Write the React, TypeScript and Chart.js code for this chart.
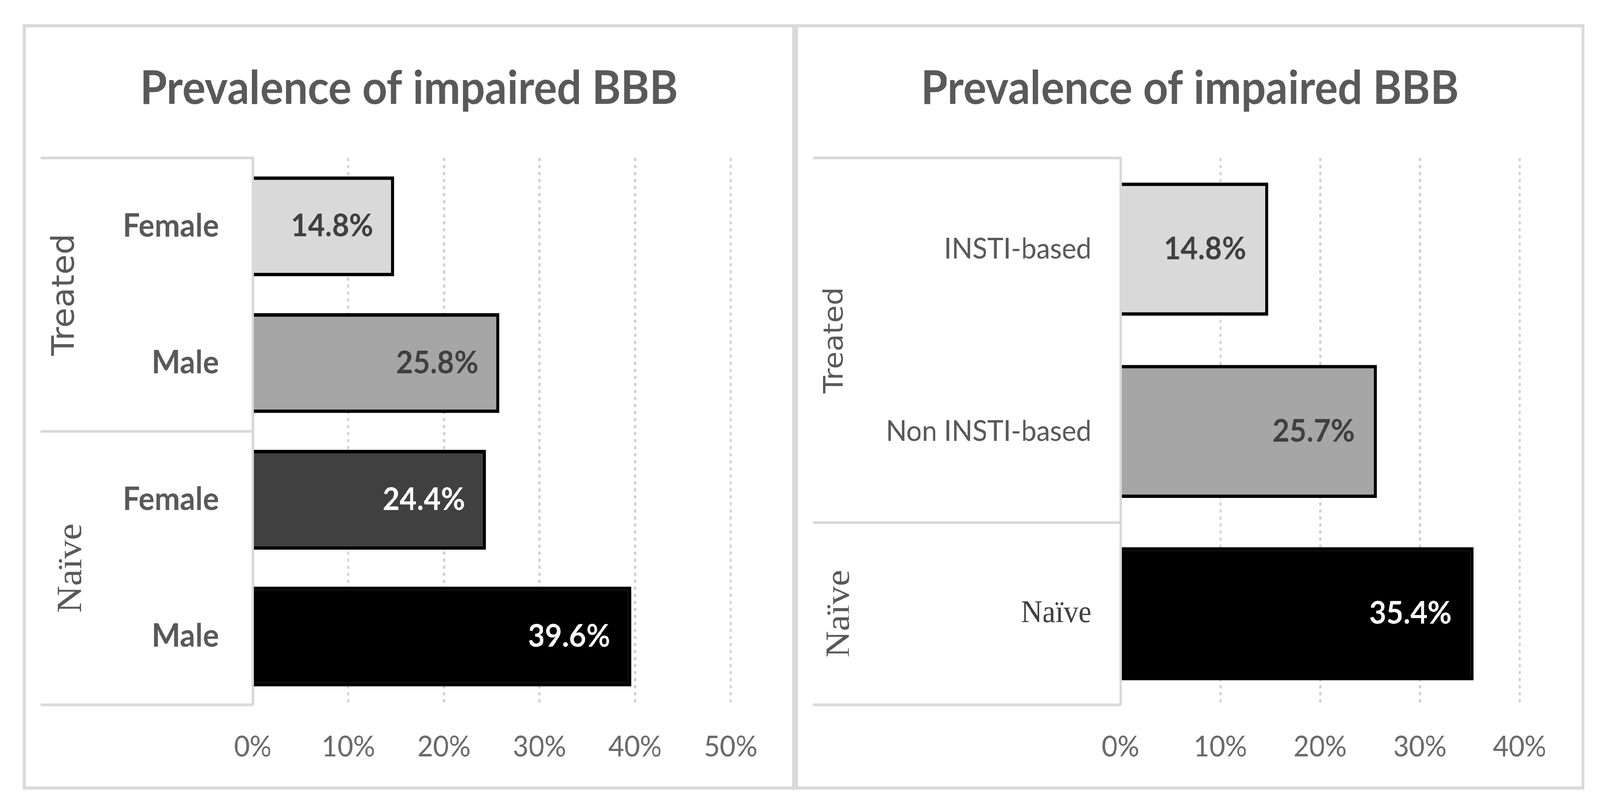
import React, { useEffect, useRef } from 'react';
import { Chart, registerables } from 'chart.js';

Chart.register(...registerables);

// ---------------- data ----------------
const TITLE = 'Prevalence of impaired BBB';

// left chart: by sex
const sexGroups = ['Treated', 'Naïve'];
const sexCategories = ['Female', 'Male', 'Female', 'Male'];
const sexGroupIndex = [0, 0, 1, 1];
const sexValues = [14.8, 25.8, 24.4, 39.6];
const sexTicks = [0, 10, 20, 30, 40, 50];

// right chart: by regimen
const regimenGroups = ['Treated', 'Naïve'];
const regimenCategories = ['INSTI-based', 'Non INSTI-based', 'Naïve'];
const regimenGroupIndex = [0, 0, 1];
const regimenValues = [14.8, 25.7, 35.4];
const regimenTicks = [0, 10, 20, 30, 40];

// ---------------- styles ----------------
const sexFills = ['#d9d9d9', '#a6a6a6', '#404040', '#000000'];
const sexValueColors = ['#404040', '#404040', '#ffffff', '#ffffff'];
const regimenFills = ['#d9d9d9', '#a6a6a6', '#000000'];
const regimenValueColors = ['#404040', '#404040', '#ffffff'];

const GRAY = '#595959';
const LINE = '#d9d9d9';
const DESIGN_W = 4342;
const DESIGN_H = 2064;

const groupAxisPlugin = {
  id: 'groupAxis',
  afterDraw(chart: any, _args: any, opts: any) {
    const { ctx, chartArea } = chart;
    const y = chart.scales.y;
    const groupIndex: number[] = opts.groupIndex;
    const n = groupIndex.length;
    const slot = n > 1 ? Math.abs(y.getPixelForValue(1) - y.getPixelForValue(0)) : chartArea.bottom - chartArea.top;
    ctx.save();
    ctx.strokeStyle = LINE;
    ctx.lineWidth = opts.lineWidth;
    const groups: string[] = opts.groups;
    groups.forEach((name, g) => {
      const idx = groupIndex.map((gi, i) => (gi === g ? i : -1)).filter((i) => i >= 0);
      const first = idx[0];
      const last = idx[idx.length - 1];
      const top = y.getPixelForValue(first) - slot / 2;
      const bottom = y.getPixelForValue(last) + slot / 2;
      ctx.beginPath();
      ctx.moveTo(opts.boxLeft, top);
      ctx.lineTo(chartArea.left, top);
      if (g === groups.length - 1) {
        ctx.moveTo(opts.boxLeft, bottom);
        ctx.lineTo(chartArea.left, bottom);
      }
      ctx.stroke();
      const st = opts.styles[g];
      ctx.save();
      ctx.translate(st.x, (top + bottom) / 2);
      ctx.rotate(-Math.PI / 2);
      ctx.font = st.font;
      ctx.fillStyle = GRAY;
      ctx.textAlign = 'center';
      ctx.textBaseline = 'middle';
      ctx.fillText(name, 0, 0);
      ctx.restore();
    });
    ctx.restore();
  },
};

const valueLabelPlugin = {
  id: 'valueLabels',
  afterDatasetsDraw(chart: any, _args: any, opts: any) {
    const { ctx } = chart;
    const meta = chart.getDatasetMeta(0);
    const values: number[] = chart.data.datasets[0].data;
    ctx.save();
    ctx.font = opts.font;
    ctx.textAlign = 'right';
    ctx.textBaseline = 'middle';
    meta.data.forEach((bar: any, i: number) => {
      ctx.fillStyle = opts.colors[i];
      ctx.fillText(values[i].toFixed(1) + '%', bar.x - opts.offset, bar.y);
    });
    ctx.restore();
  },
};

type Spec = {
  groups: string[];
  categories: string[];
  groupIndex: number[];
  values: number[];
  ticks: number[];
  fills: string[];
  valueColors: string[];
  width: number;
  height: number;
  plotLeft: number;
  padSide: number;
  catPad: number;
  catFont: (i: number) => any;
  catColor: (i: number) => string;
  groupStyles: { font: string; x: number }[];
  valueOffset: number;
};

function buildConfig(s: Spec): any {
  return {
    type: 'bar',
    data: {
      labels: s.categories,
      datasets: [
        {
          data: s.values,
          backgroundColor: s.fills,
          borderColor: '#000000',
          borderWidth: 9,
          borderSkipped: 'start',
          barPercentage: 0.73,
          categoryPercentage: 1,
        },
      ],
    },
    options: {
      indexAxis: 'y',
      responsive: false,
      maintainAspectRatio: false,
      animation: false,
      devicePixelRatio: 1,
      layout: { padding: { left: s.padSide, right: s.padSide, top: 0, bottom: 0 } },
      scales: {
        x: {
          type: 'linear',
          min: s.ticks[0],
          max: s.ticks[s.ticks.length - 1],
          afterBuildTicks: (sc: any) => {
            sc.ticks = s.ticks.map((v) => ({ value: v }));
          },
          afterFit: (sc: any) => {
            sc.height = 209;
          },
          grid: {
            drawTicks: false,
            lineWidth: 6,
            color: (c: any) => (c.tick && c.tick.value === 0 ? 'rgba(0,0,0,0)' : '#d0d0d0'),
          },
          border: { display: false, dash: [8, 10] },
          ticks: {
            padding: 64,
            color: '#6a6a6a',
            font: { family: 'Lato', size: 74, weight: 'normal' },
            callback: (v: any) => v + '%',
          },
        },
        y: {
          type: 'category',
          afterFit: (sc: any) => {
            sc.width = s.plotLeft - s.padSide;
          },
          grid: { display: false, drawTicks: false },
          border: { display: true, color: LINE, width: 7 },
          ticks: {
            padding: s.catPad,
            autoSkip: false,
            color: (c: any) => s.catColor(c.index),
            font: (c: any) => s.catFont(c.index),
          },
        },
      },
      plugins: {
        legend: { display: false },
        tooltip: { enabled: false },
        title: {
          display: true,
          text: TITLE,
          color: GRAY,
          font: { family: 'Lato', size: 118, weight: 'bold', lineHeight: 1.2 },
          padding: { top: 87, bottom: 106 },
        },
        groupAxis: {
          groups: s.groups,
          groupIndex: s.groupIndex,
          boxLeft: 40,
          lineWidth: 7,
          styles: s.groupStyles,
        },
        valueLabels: {
          font: 'bold 80px Lato',
          colors: s.valueColors,
          offset: s.valueOffset,
        },
      },
    },
    plugins: [groupAxisPlugin, valueLabelPlugin],
  };
}

const leftSpec: Spec = {
  groups: sexGroups,
  categories: sexCategories,
  groupIndex: sexGroupIndex,
  values: sexValues,
  ticks: sexTicks,
  fills: sexFills,
  valueColors: sexValueColors,
  width: 2080,
  height: 1944,
  plotLeft: 616,
  padSide: 167,
  catPad: 92,
  catFont: () => ({ family: 'Lato', size: 82, weight: 'bold' }),
  catColor: () => GRAY,
  groupStyles: [
    { font: '84px "DejaVu Sans"', x: 108 },
    { font: '96px "Liberation Serif"', x: 125 },
  ],
  valueOffset: 57,
};

const rightSpec: Spec = {
  groups: regimenGroups,
  categories: regimenCategories,
  groupIndex: regimenGroupIndex,
  values: regimenValues,
  ticks: regimenTicks,
  fills: regimenFills,
  valueColors: regimenValueColors,
  width: 2126,
  height: 1944,
  plotLeft: 875,
  padSide: 168,
  catPad: 79,
  catFont: (i: number) =>
    regimenCategories[i] === 'Naïve'
      ? { family: 'Liberation Serif', size: 80, weight: 'normal' }
      : { family: 'Lato', size: 74, weight: 'normal' },
  catColor: (i: number) => (regimenCategories[i] === 'Naïve' ? '#404040' : GRAY),
  groupStyles: [
    { font: '73px "DejaVu Sans"', x: 102 },
    { font: '94px "Liberation Serif"', x: 113 },
  ],
  valueOffset: 60,
};

function BarPanel({ spec, left }: { spec: Spec; left: number }) {
  const ref = useRef<HTMLCanvasElement>(null);
  useEffect(() => {
    const chart = new Chart(ref.current as HTMLCanvasElement, buildConfig(spec));
    return () => chart.destroy();
  }, []);
  return (
    <div
      style={{
        position: 'absolute',
        left,
        top: 62,
        width: spec.width + 16,
        height: spec.height + 16,
        boxSizing: 'border-box',
        border: `8px solid ${LINE}`,
        background: '#ffffff',
      }}
    >
      <canvas
        ref={ref}
        width={spec.width}
        height={spec.height}
        style={{ display: 'block', width: spec.width, height: spec.height }}
      />
    </div>
  );
}

export default function App() {
  const vw = typeof window !== 'undefined' && window.innerWidth ? window.innerWidth : DESIGN_W;
  const vh = typeof window !== 'undefined' && window.innerHeight ? window.innerHeight : DESIGN_H;
  const sx = vw / DESIGN_W;
  const sy = vh / DESIGN_H;
  return (
    <div
      style={{
        position: 'fixed',
        left: 0,
        top: 0,
        width: DESIGN_W,
        height: DESIGN_H,
        background: '#ffffff',
        overflow: 'hidden',
        transform: `scale(${sx}, ${sy})`,
        transformOrigin: '0 0',
      }}
    >
      <BarPanel spec={leftSpec} left={62} />
      <BarPanel spec={rightSpec} left={2158} />
    </div>
  );
}
